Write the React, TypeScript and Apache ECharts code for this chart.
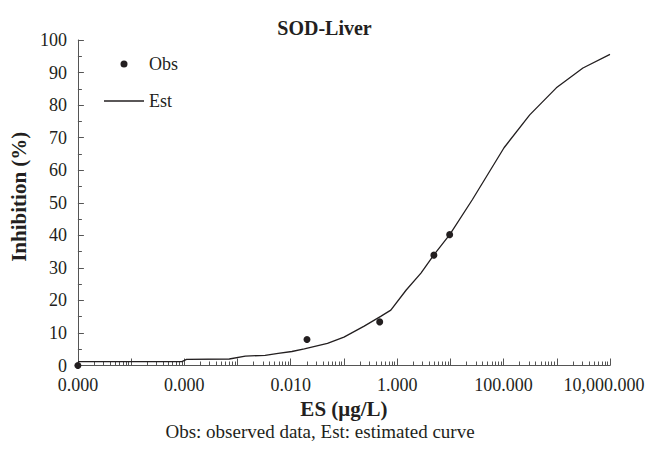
import React, { useEffect, useRef } from 'react';
import * as echarts from 'echarts';

// Observed data (ES in µg/L, inhibition %)
const obsX = [0.000001, 0.0202, 0.47, 4.9, 9.7];
const obsY = [0, 8, 13.4, 33.9, 40.2];

// Estimated curve
const estX = [0.000001, 0.00009, 0.00011, 0.0007, 0.0014, 0.0033, 0.0058, 0.0105, 0.018, 0.049, 0.1, 0.24, 0.49, 0.76, 1.48, 2.8, 4.9, 9.8, 26, 102, 310, 980, 3100, 10000];
const estY = [1.2, 1.2, 1.9, 2.0, 2.9, 3.1, 3.7, 4.3, 5.1, 6.8, 8.7, 12.1, 15.1, 17.0, 23.2, 28.4, 34, 40.3, 51, 66.9, 77, 85.3, 91.4, 95.6];

// Axis ticks / labels
const xLabelValues = [0.000001, 0.0001, 0.01, 1, 100, 10000];
const decadeTicks = [0.000001, 0.00001, 0.0001, 0.001, 0.01, 0.1, 1, 10, 100, 1000, 10000];
const minorMultipliers = [2, 3, 4, 5, 6, 7, 8, 9];
const minorTicks = decadeTicks.slice(0, -1).flatMap((d) => minorMultipliers.map((m) => m * d));

const FONT = "'Liberation Serif', 'Times New Roman', serif";
const INK = '#231f20';
const AXIS = '#555555';

// Legend icons (40 x 14 boxes)
const OBS_ICON = 'path://M0,0 M40,0 M40,14 M0,14 M16.5,7 A3.5,3.5,0,1,0,23.5,7 A3.5,3.5,0,1,0,16.5,7 Z';
const EST_ICON = 'path://M0,0 M40,0 M40,14 M0,14 M0,6.35 L40,6.35 L40,7.65 L0,7.65 Z';

export default function App() {
  const ref = useRef<HTMLDivElement>(null);

  useEffect(() => {
    if (!ref.current) return;
    const chart = echarts.init(ref.current, undefined, { renderer: 'svg' });
    const fmt = (v: number) => {
      const s = v.toLocaleString('en-US', { minimumFractionDigits: 3, maximumFractionDigits: 3 });
      return v > 5000 ? `{last|${s}}` : s;
    };
    const legendText = { fontFamily: FONT, fontSize: 18, color: INK };
    chart.setOption({
      animation: false,
      backgroundColor: '#ffffff',
      title: {
        text: 'SOD-Liver',
        left: 'center',
        top: 13,
        textStyle: { fontFamily: FONT, fontSize: 20, fontWeight: 'bold', color: INK },
      },
      legend: [
        {
          data: [{ name: 'Obs', icon: OBS_ICON, itemStyle: { color: INK, borderWidth: 0, opacity: 1 } }],
          left: 104,
          top: 55,
          padding: 0,
          itemWidth: 40,
          itemHeight: 14,
          textStyle: legendText,
        },
        {
          data: [{ name: 'Est', icon: EST_ICON, itemStyle: { color: INK, borderWidth: 0, opacity: 1 } }],
          left: 104,
          top: 92,
          padding: 0,
          itemWidth: 40,
          itemHeight: 14,
          textStyle: legendText,
        },
      ],
      grid: { left: 70, right: 39, top: 40, bottom: 87.5 },
      xAxis: [
        {
          type: 'log',
          logBase: 10,
          min: 0.000001,
          max: 10000,
          position: 'bottom',
          axisLine: { show: true, onZero: false, lineStyle: { color: AXIS, width: 1 } },
          axisTick: { show: true, inside: true, length: 7, customValues: decadeTicks, lineStyle: { color: AXIS } },
          minorTick: { show: false },
          splitLine: { show: false },
          axisLabel: {
            customValues: xLabelValues,
            formatter: fmt,
            fontFamily: FONT,
            fontSize: 18,
            color: INK,
            margin: 10,
            rich: { last: { fontFamily: FONT, fontSize: 18, color: INK, padding: [0, 12, 0, 0] } },
          },
          name: 'ES (μg/L)',
          nameLocation: 'middle',
          nameGap: 28,
          nameTextStyle: { fontFamily: FONT, fontSize: 21, fontWeight: 'bold', color: INK },
        },
        {
          type: 'log',
          logBase: 10,
          min: 0.000001,
          max: 10000,
          position: 'bottom',
          axisLine: { show: false },
          axisTick: { show: true, inside: true, length: 4, customValues: minorTicks, lineStyle: { color: AXIS } },
          minorTick: { show: false },
          splitLine: { show: false },
          axisLabel: { show: false },
        },
      ],
      yAxis: {
        type: 'value',
        min: 0,
        max: 100,
        interval: 10,
        axisLine: { show: true, lineStyle: { color: AXIS, width: 1 } },
        axisTick: { show: true, inside: true, length: 6, lineStyle: { color: AXIS } },
        minorTick: { show: true, splitNumber: 2, length: 4, lineStyle: { color: AXIS } },
        splitLine: { show: false },
        axisLabel: { fontFamily: FONT, fontSize: 18, color: INK, margin: 11 },
        name: 'Inhibition (%)',
        nameLocation: 'middle',
        nameGap: 39,
        nameRotate: 90,
        nameTextStyle: { fontFamily: FONT, fontSize: 21, fontWeight: 'bold', color: INK, padding: [0, 0, 0, 12] },
      },
      graphic: [
        {
          type: 'text',
          x: 320,
          y: 431,
          style: {
            text: 'Obs: observed data, Est: estimated curve',
            align: 'center',
            verticalAlign: 'middle',
            fontFamily: FONT,
            fontSize: 19,
            fill: INK,
          },
        },
      ],
      series: [
        {
          name: 'Obs',
          type: 'scatter',
          xAxisIndex: 0,
          data: obsX.map((x, i) => [x, obsY[i]]),
          symbol: 'circle',
          symbolSize: 7,
          itemStyle: { color: INK, opacity: 1 },
          clip: false,
          z: 3,
        },
        {
          name: 'Est',
          type: 'line',
          xAxisIndex: 0,
          data: estX.map((x, i) => [x, estY[i]]),
          symbol: 'none',
          lineStyle: { color: INK, width: 1.3 },
          itemStyle: { color: INK },
        },
      ],
    });
    return () => chart.dispose();
  }, []);

  return (
    <div
      ref={ref}
      style={{ position: 'fixed', left: 0, top: 0, width: 649, height: 453, background: '#fff' }}
    />
  );
}
